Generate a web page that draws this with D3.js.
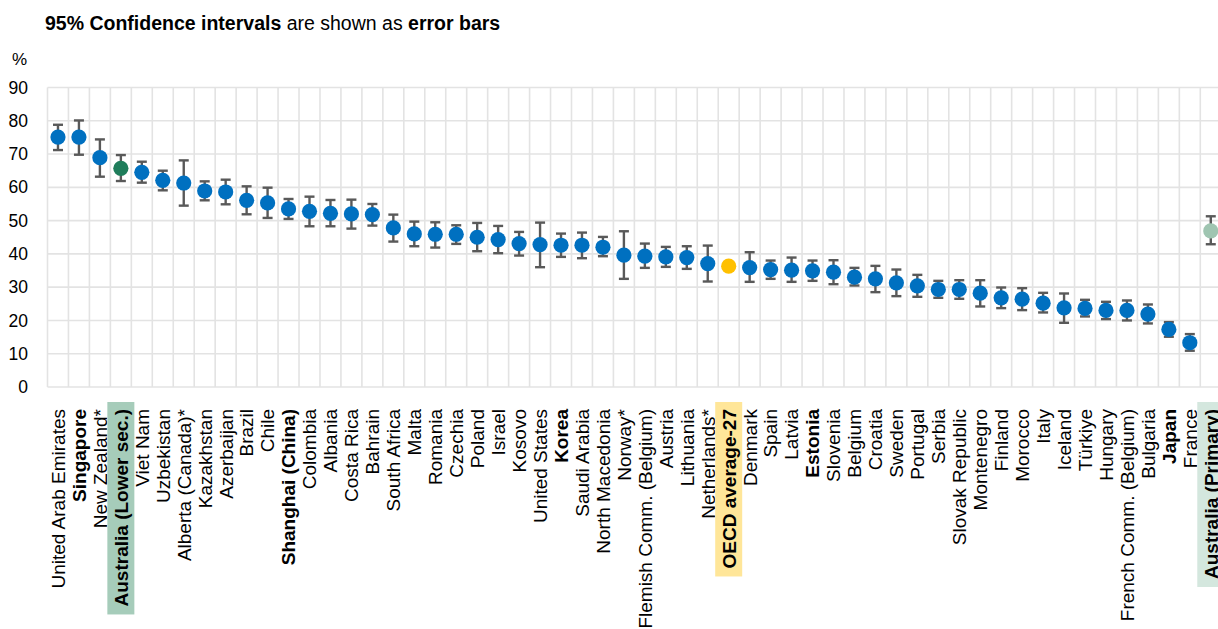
<!DOCTYPE html>
<html>
<head>
<meta charset="utf-8">
<script src="https://cdn.jsdelivr.net/npm/d3@7"></script>
<style>
  html, body { margin: 0; padding: 0; background: #fff; }
  svg { display: block; font-family: "Liberation Sans", Arial, sans-serif; }
</style>
</head>
<body>
<svg id="chart" width="1218" height="629"></svg>
<script>
// Share of students (%) with 95% confidence interval bounds
const categories = [
  "United Arab Emirates", "Singapore", "New Zealand*", "Australia (Lower sec.)", "Viet Nam",
  "Uzbekistan", "Alberta (Canada)*", "Kazakhstan", "Azerbaijan", "Brazil",
  "Chile", "Shanghai (China)", "Colombia", "Albania", "Costa Rica",
  "Bahrain", "South Africa", "Malta", "Romania", "Czechia",
  "Poland", "Israel", "Kosovo", "United States", "Korea",
  "Saudi Arabia", "North Macedonia", "Norway*", "Flemish Comm. (Belgium)", "Austria",
  "Lithuania", "Netherlands*", "OECD average-27", "Denmark", "Spain",
  "Latvia", "Estonia", "Slovenia", "Belgium", "Croatia",
  "Sweden", "Portugal", "Serbia", "Slovak Republic", "Montenegro",
  "Finland", "Morocco", "Italy", "Iceland", "Türkiye",
  "Hungary", "French Comm. (Belgium)", "Bulgaria", "Japan", "France",
  "Australia (Primary)"
];

const values = [
  75.1, 75.1, 68.9, 65.7, 64.5,
  62.1, 61.3, 58.9, 58.6, 56.1,
  55.3, 53.5, 52.8, 52.2, 52.0,
  51.8, 47.8, 46.0, 45.9, 45.9,
  45.0, 44.3, 43.1, 42.8, 42.6,
  42.6, 42.0, 39.6, 39.3, 39.1,
  38.9, 37.1, 36.3, 35.9, 35.3,
  35.1, 34.9, 34.5, 33.0, 32.5,
  31.3, 30.4, 29.3, 29.3, 28.2,
  26.8, 26.4, 25.2, 23.8, 23.6,
  23.0, 23.0, 21.9, 17.3, 13.3,
  46.9
];

const ciLow = [
  71.2, 69.8, 63.2, 61.9, 61.4,
  59.1, 54.5, 56.1, 54.9, 51.9,
  50.8, 50.5, 48.3, 48.3, 47.6,
  48.5, 43.7, 42.3, 41.9, 43.0,
  40.8, 40.2, 39.5, 36.0, 39.1,
  38.7, 39.3, 32.5, 35.8, 36.1,
  35.5, 31.7, null, 31.6, 32.5,
  31.6, 31.9, 30.9, 30.5, 28.5,
  27.3, 27.1, 26.8, 26.5, 24.2,
  23.7, 23.1, 22.4, 19.3, 21.2,
  20.4, 20.0, 19.1, 15.1, 10.9,
  42.9
];

const ciHigh = [
  78.8, 80.1, 74.4, 69.7, 67.7,
  65.0, 68.1, 61.8, 62.3, 60.3,
  59.9, 56.5, 57.2, 56.2, 56.3,
  55.0, 51.8, 49.7, 49.5, 48.6,
  49.3, 48.4, 46.6, 49.4, 46.1,
  46.4, 45.1, 46.8, 43.1, 42.1,
  42.3, 42.5, null, 40.5, 38.0,
  38.9, 38.0, 38.1, 35.8, 36.4,
  35.3, 33.7, 31.9, 32.1, 32.1,
  29.9, 29.7, 28.3, 28.1, 26.2,
  25.6, 26.0, 24.8, 19.5, 15.9,
  51.3
];

const yTicks = [0, 10, 20, 30, 40, 50, 60, 70, 80, 90];

// Entries printed in bold, and entries with a coloured label band / marker
const boldLabels = ["Singapore", "Australia (Lower sec.)", "Shanghai (China)", "Korea",
  "OECD average-27", "Estonia", "Japan", "Australia (Primary)"];
const markerColors = {
  "Australia (Lower sec.)": "#1f7d5b",
  "OECD average-27": "#ffc000",
  "Australia (Primary)": "#9fc5b1"
};
const labelBands = {
  "Australia (Lower sec.)": "#a6ccba",
  "OECD average-27": "#ffe699",
  "Australia (Primary)": "#d4e7de"
};
const defaultColor = "#0070c0";

const data = categories.map((c, i) => ({
  name: c, value: values[i], lo: ciLow[i], hi: ciHigh[i]
}));

const svg = d3.select("#chart");
const margin = { left: 47.5, top: 87.5, bottom: 387 };
const bandW = 20.96;

const x = d3.scaleBand()
  .domain(categories)
  .range([margin.left, margin.left + bandW * categories.length])
  .paddingInner(0).paddingOuter(0);

const y = d3.scaleLinear().domain([0, 90]).range([margin.bottom, margin.top]);

// Title
const title = svg.append("text")
  .attr("x", 45).attr("y", 30)
  .attr("font-size", 19.5)
  .attr("fill", "#000");
title.append("tspan").attr("font-weight", "bold").text("95% Confidence intervals");
title.append("tspan").text(" are shown as ");
title.append("tspan").attr("font-weight", "bold").text("error bars");

// Unit label
svg.append("text")
  .attr("x", 12).attr("y", 65)
  .attr("font-size", 17)
  .attr("fill", "#000")
  .text("%");

// Grid
const grid = svg.append("g").attr("stroke", "#e3e3e3").attr("stroke-width", 1.6);
grid.selectAll("line.h").data(yTicks).join("line")
  .attr("class", "h")
  .attr("x1", x.range()[0]).attr("x2", x.range()[1])
  .attr("y1", d => y(d)).attr("y2", d => y(d));
const bounds = categories.map(c => x(c)).concat([x.range()[1]]);
grid.selectAll("line.v").data(bounds).join("line")
  .attr("class", "v")
  .attr("x1", d => d).attr("x2", d => d)
  .attr("y1", y(90)).attr("y2", y(0));

// Y axis labels
const yAxis = d3.axisLeft(y).tickValues(yTicks).tickSize(0).tickPadding(0);
const yg = svg.append("g")
  .attr("transform", "translate(28,0)")
  .call(yAxis);
yg.select(".domain").remove();
yg.selectAll("text")
  .attr("font-size", 17.5)
  .attr("font-family", "'Liberation Sans', Arial, sans-serif")
  .attr("fill", "#000");

// Category labels (rotated), with coloured bands behind highlighted entries
const labelsG = svg.append("g");
const labelEnd = 409;
const labelNodes = labelsG.selectAll("g.lab").data(data).join("g")
  .attr("class", "lab")
  .attr("transform", d => `translate(${x(d.name) + x.bandwidth() / 2},${labelEnd}) rotate(-90)`);

labelNodes.append("text")
  .attr("text-anchor", "end")
  .attr("dy", "0.36em")
  .attr("font-size", 19)
  .attr("font-weight", d => boldLabels.includes(d.name) ? "bold" : "normal")
  .attr("fill", "#000")
  .text(d => d.name);

labelNodes.each(function(d) {
  if (!labelBands[d.name]) return;
  const g = d3.select(this);
  const bb = g.select("text").node().getBBox();
  g.insert("rect", "text")
    .attr("x", bb.x - 8)
    .attr("y", -13.5)
    .attr("width", bb.width + 15)
    .attr("height", 27)
    .attr("fill", labelBands[d.name]);
});

// Error bars
const errG = svg.append("g").attr("stroke", "#595959").attr("stroke-width", 2.4);
const withCI = data.filter(d => d.lo != null && d.hi != null);
const cx = d => x(d.name) + x.bandwidth() / 2;
errG.selectAll("line.stem").data(withCI).join("line")
  .attr("x1", cx).attr("x2", cx)
  .attr("y1", d => y(d.lo)).attr("y2", d => y(d.hi));
errG.selectAll("line.capHi").data(withCI).join("line")
  .attr("x1", d => cx(d) - 5).attr("x2", d => cx(d) + 5)
  .attr("y1", d => y(d.hi)).attr("y2", d => y(d.hi));
errG.selectAll("line.capLo").data(withCI).join("line")
  .attr("x1", d => cx(d) - 5).attr("x2", d => cx(d) + 5)
  .attr("y1", d => y(d.lo)).attr("y2", d => y(d.lo));

// Markers
svg.append("g").selectAll("circle").data(data).join("circle")
  .attr("cx", cx)
  .attr("cy", d => y(d.value))
  .attr("r", 7.6)
  .attr("fill", d => markerColors[d.name] || defaultColor);
</script>
</body>
</html>
